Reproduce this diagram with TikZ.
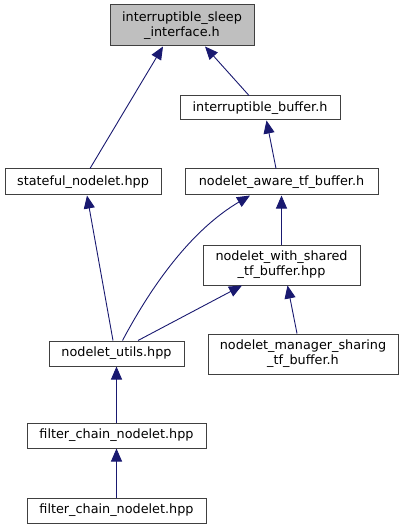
\documentclass[tikz,border=0pt]{standalone}
\usepackage{fontspec}
\setmainfont{DejaVu Sans}
\usetikzlibrary{arrows.meta}
\definecolor{edgeblue}{HTML}{191970}
\definecolor{boxgray}{HTML}{404040}
\definecolor{rootfill}{HTML}{BFBFBF}

\begin{document}
\begin{tikzpicture}[x=1pt, y=-1pt,
    file/.style={rectangle, draw=boxgray, line width=1pt, inner sep=0pt, align=center, font=\fontsize{12.8}{15}\selectfont},
    include/.style={-{Triangle[length=13pt, width=11pt, fill=edgeblue]}, draw=edgeblue, line width=0.9pt}
]
\useasboundingbox (0,0) rectangle (404,529);

% Root file
\node[file, fill=rootfill, minimum width=144pt, minimum height=41pt] (sleep) at (182,25.5) {interruptible\_sleep\\\_interface.h};

% Level 1
\node[file, minimum width=160pt, minimum height=24pt] (ibuf) at (260,108) {interruptible\_buffer.h};

% Level 2
\node[file, minimum width=156pt, minimum height=26pt] (stateful) at (83,182) {stateful\_nodelet.hpp};
\node[file, minimum width=193pt, minimum height=26pt] (aware) at (281.5,182) {nodelet\_aware\_tf\_buffer.h};

% Level 3
\node[file, minimum width=157pt, minimum height=40pt] (shared) at (281.5,265) {nodelet\_with\_shared\\\_tf\_buffer.hpp};

% Level 4
\node[file, minimum width=135pt, minimum height=25pt] (utils) at (116.5,353.5) {nodelet\_utils.hpp};
\node[file, minimum width=190pt, minimum height=40pt] (manager) at (303,354) {nodelet\_manager\_sharing\\\_tf\_buffer.h};

% Level 5 and 6
\node[file, minimum width=179pt, minimum height=25pt] (filter) at (116.5,435.5) {filter\_chain\_nodelet.hpp};
\node[file, minimum width=179pt, minimum height=25pt] (filtertop) at (116.5,510.5) {filter\_chain\_nodelet.hpp};

% Includes
\draw[include] ([xshift=7pt]stateful.north) -- ([xshift=-19pt]sleep.south);
\draw[include] ([xshift=-11pt]ibuf.north) -- ([xshift=23pt]sleep.south);
\draw[include] ([xshift=-5.5pt]aware.north) -- ([xshift=6.5pt]ibuf.south);
\draw[include] (shared.north) -- (aware.south);
\draw[include] ([xshift=-3.5pt]utils.north) -- ([xshift=4pt]stateful.south);
\draw[include] ([xshift=6pt]utils.north) .. controls (160,270) and (200,225) .. ([xshift=-31.5pt]aware.south);
\draw[include] ([xshift=21.5pt]utils.north) -- ([xshift=-39.5pt]shared.south);
\draw[include] ([xshift=-6pt]manager.north) -- ([xshift=6pt]shared.south);
\draw[include] (filter.north) -- (utils.south);
\draw[include] (filtertop.north) -- (filter.south);

\end{tikzpicture}
\end{document}
